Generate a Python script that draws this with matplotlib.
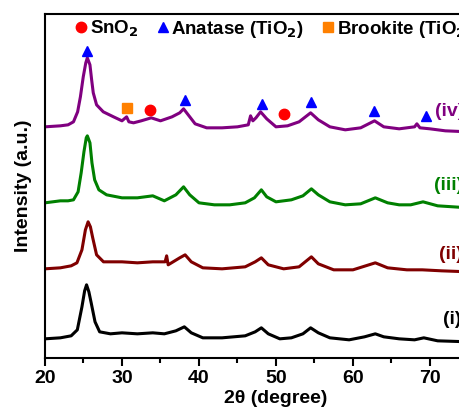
import matplotlib
matplotlib.use("Agg")
import matplotlib.pyplot as plt
from matplotlib.lines import Line2D

plt.rcParams["font.family"] = ["Liberation Sans", "DejaVu Sans"]
plt.rcParams["font.weight"] = "bold"

# stacked XRD patterns, intensity already offset (a.u.)
tt_iv = [20, 22, 23.0, 23.7, 24.24, 24.6, 24.97, 25.3, 25.5, 25.84, 26.06, 26.27, 26.7,
         27.57, 28.9, 30, 30.6, 30.9, 31.5, 32.5, 33.8, 35, 36.5, 37.5, 38.0, 38.6, 39.5,
         41, 43, 45, 46.4, 46.7, 47.0, 47.4, 48.0, 48.8, 50, 51.5, 53, 54.5, 55.5, 57, 59,
         61, 62.8, 64, 66, 68.0, 68.3, 68.7, 70, 72, 75]
int_iv = [231, 232, 233, 236, 246, 261, 281, 295, 300, 293, 278, 265, 253,
          246, 241, 237, 241, 236, 235, 237, 240, 237, 241, 245, 249, 243, 234,
          230, 230, 231, 233, 242, 237, 240, 246, 239, 231, 232, 236, 245, 238, 231, 228,
          230, 237, 231, 229, 231, 234, 230, 229, 227, 226]

tt_iii = [20, 22, 23.0, 23.7, 24.3, 24.7, 25.06, 25.36, 25.5, 25.84, 26.1, 26.45, 27.0,
          28.0, 30, 32, 34.0, 35.5, 37, 38.0, 38.8, 40, 42, 44, 46, 47.2, 48.1, 48.8, 50,
          52, 53.5, 54.6, 55.5, 57, 59, 61, 62.9, 64.5, 66, 67.5, 69.1, 71, 75]
int_iii = [155, 157, 157, 158, 166, 185, 206, 220, 222, 215, 195, 178, 168,
           163, 160, 160, 162, 157, 163, 171, 163, 155, 153, 153, 155, 160, 168, 161, 156,
           158, 162, 169, 163, 156, 153, 154, 160, 155, 153, 153, 156, 152, 150]

tt_ii = [20, 22, 23.4, 24.15, 24.8, 25.25, 25.6, 25.9, 26.2, 26.7, 27.6, 28.5, 30, 32, 34,
         35.6, 35.8, 36.0, 37.5, 38.2, 39, 40.5, 43, 46, 47.3, 48.1, 49, 51, 53, 54.6, 55.5,
         57.5, 60, 62.9, 64.5, 67, 69, 71.5, 75]
int_ii = [89, 90, 92, 95, 108, 128, 136, 131, 120, 103, 96, 96, 96, 95, 96,
          96, 102, 93, 100, 103, 96, 90, 89, 91, 96, 100, 93, 89, 91, 101, 94,
          88, 88, 95, 90, 88, 88, 87, 86]

tt_i = [20, 22, 23.4, 24.2, 24.8, 25.15, 25.4, 25.7, 26.0, 26.5, 27.1, 28.5, 30, 32, 34,
        35.5, 37, 38.1, 39, 40.5, 43, 46, 47.3, 48.1, 49, 50.5, 52, 53.5, 54.5, 55.5, 57,
        59.5, 61.5, 62.9, 64, 66, 68, 69.2, 71, 75]
int_i = [19, 20, 22, 28, 51, 67, 73, 66, 55, 36, 26, 24, 25, 24, 25,
         24, 27, 31, 25, 20, 20, 22, 26, 30, 24, 19, 20, 24, 30, 25, 20,
         18, 21, 24, 21, 19, 18, 20, 17, 16]

# phase markers above pattern (iv)
anatase_tt = [25.4, 38.2, 48.2, 54.6, 62.7, 69.5]
anatase_int = [307, 258, 254, 256, 247, 242]
sno2_tt = [33.7, 51.0]
sno2_int = [248, 244]
brookite_tt = [30.7]
brookite_int = [250]

labels = ["(iv)", "(iii)", "(ii)", "(i)"]
label_tt = [70.65, 70.5, 71.2, 71.7]
label_int = [246, 172, 103, 38]

C_IV, C_III, C_II, C_I = "#800080", "#008000", "#800000", "#000000"

fig = plt.figure(figsize=(4.59, 4.19), dpi=100)
ax = fig.add_axes([0.098, 0.146, 1.0065, 0.821])

lw = 2.2
ax.plot(tt_i, int_i, color=C_I, lw=lw)
ax.plot(tt_ii, int_ii, color=C_II, lw=lw)
ax.plot(tt_iii, int_iii, color=C_III, lw=lw)
ax.plot(tt_iv, int_iv, color=C_IV, lw=lw)

ax.plot(anatase_tt, anatase_int, "^", color="#0000ff", ms=7.5, ls="none")
ax.plot(sno2_tt, sno2_int, "o", color="#ff0000", ms=7.5, ls="none")
ax.plot(brookite_tt, brookite_int, "s", color="#ff8000", ms=7, ls="none")

for lab, x, y, c in zip(labels, label_tt, label_int, [C_IV, C_III, C_II, C_I]):
    ax.text(x, y, lab, color=c, fontsize=14, fontweight="bold", va="center", ha="left")

handles = [Line2D([], [], marker="o", color="#ff0000", ls="none", ms=7.5),
           Line2D([], [], marker="^", color="#0000ff", ls="none", ms=7.5),
           Line2D([], [], marker="s", color="#ff8000", ls="none", ms=7)]
ax.legend(handles, ["SnO$_2$", "Anatase (TiO$_2$)", "Brookite (TiO$_2$)"],
          loc="upper left", bbox_to_anchor=(0.03, 1.035), ncol=3, frameon=False,
          handlelength=0.6, handletextpad=0.15, columnspacing=1.0,
          prop={"weight": "bold", "size": 13.5})

ax.set_xlim(20, 80)
ax.set_ylim(0, 344)
ax.set_xticks([20, 30, 40, 50, 60, 70, 80])
ax.set_xticks([25, 35, 45, 55, 65, 75], minor=True)
ax.set_yticks([])
ax.tick_params(axis="x", which="major", direction="out", length=6, width=1.5,
               labelsize=14, pad=3)
ax.tick_params(axis="x", which="minor", direction="out", length=3.5, width=1.5)
for s in ax.spines.values():
    s.set_linewidth(1.5)

ax.set_xlabel("2θ (degree)", fontsize=14, fontweight="bold", labelpad=2)
ax.set_ylabel("Intensity (a.u.)", fontsize=14, fontweight="bold", labelpad=9)

fig.savefig("out.png", dpi=100)
